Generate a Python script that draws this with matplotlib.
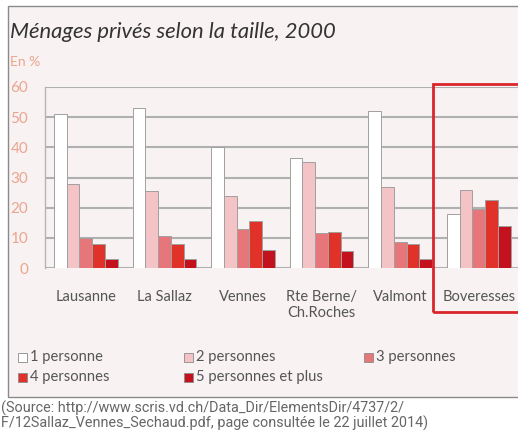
import matplotlib.pyplot as plt
from matplotlib.patches import Rectangle
import numpy as np

# data
categories = ["Lausanne", "La Sallaz", "Vennes", "Rte Berne/\nCh.Roches", "Valmont", "Boveresses"]
series_names = ["1 personne", "2 personnes", "3 personnes", "4 personnes", "5 personnes et plus"]
one_person = [51, 53, 40, 36.5, 52, 18]
two_persons = [28, 25.5, 24, 35, 27, 26]
three_persons = [10, 10.5, 13, 11.5, 8.5, 19.5]
four_persons = [8, 8, 15.5, 12, 8, 22.5]
five_plus = [3, 3, 6, 5.5, 3, 14]
yticks = [0, 10, 20, 30, 40, 50, 60]

colors = ["#ffffff", "#f3c3c5", "#e7767a", "#e03228", "#c3121e"]
bg = "#f8f2f3"
tick_color = "#eaa58f"
text_color = "#555555"

W, H = 518, 436


def fx(px):
    return px / W


def fy(py):
    return 1 - py / H


fig = plt.figure(figsize=(W / 100, H / 100), dpi=100)
fig.patch.set_facecolor("white")

# panel background
fig.patches.append(Rectangle((fx(8), fy(397)), fx(540 - 8), (397 - 6) / H,
                             transform=fig.transFigure, facecolor=bg,
                             edgecolor="#8a8a8a", lw=1, zorder=-1))

ax = fig.add_axes([fx(45), fy(268), fx(W - 45), (268 - 87) / H])
ax.set_zorder(1)
ax.patch.set_alpha(0)

values = [one_person, two_persons, three_persons, four_persons, five_plus]
x = np.arange(len(categories))
w = 0.162
for j, vals in enumerate(values):
    ax.bar(x + (j - 2) * w, vals, width=w, color=colors[j],
           edgecolor="#a0a0a0", linewidth=0.7, zorder=3)

ax.set_xlim(-0.52, 5.5)
ax.set_ylim(0, 60)
ax.set_yticks(yticks)
ax.yaxis.grid(True, color="#b0b0b0", lw=1.5, zorder=0)
ax.set_axisbelow(True)
for s in ["top", "right", "bottom"]:
    ax.spines[s].set_visible(False)
ax.spines["left"].set_color("#b5b5b5")
ax.spines["left"].set_linewidth(1)
ax.tick_params(axis="y", length=0, pad=12, labelcolor=tick_color, labelsize=11)
ax.set_yticklabels([str(t) for t in yticks], fontfamily="Lato")
ax.set_xticks(x)
ax.set_xticklabels(categories, fontfamily="Lato", fontsize=10.5, color=text_color,
                   multialignment="center")
ax.tick_params(axis="x", length=0, pad=16)

# highlight box
fig.patches.append(Rectangle((fx(433), fy(312)), fx(120), (312 - 84) / H,
                             transform=fig.transFigure, facecolor="none",
                             edgecolor="#d9262a", lw=2, zorder=5))

fig.text(fx(10), fy(32), "Ménages privés selon la taille, 2000", fontfamily="Lato",
         fontstyle="italic", fontsize=15.8, color="#333333", va="center")
fig.text(fx(10), fy(62), "En %", fontfamily="Lato", fontsize=10,
         color=tick_color, va="center")

# legend, row-wise like the reference
leg_pos = [(18, 357), (184, 357), (364, 357), (18, 377), (184, 377)]
for (px, py), name, c in zip(leg_pos, series_names, colors):
    fig.patches.append(Rectangle((fx(px), fy(py + 4.5)), fx(9), 9 / H,
                                 transform=fig.transFigure, facecolor=c,
                                 edgecolor="#8a8a8a", lw=0.6, zorder=5))
    fig.text(fx(px + 12), fy(py), name, fontfamily="Lato", fontsize=10.6,
             color=text_color, va="center")

fig.text(fx(1), fy(408), "(Source: http://www.scris.vd.ch/Data_Dir/ElementsDir/4737/2/",
         fontfamily="Roboto", fontsize=10.4, color="#666666", va="center")
fig.text(fx(1), fy(423), "F/12Sallaz_Vennes_Sechaud.pdf, page consultée le 22 juillet 2014)",
         fontfamily="Roboto", fontsize=10.4, color="#666666", va="center")

fig.savefig("out.png", dpi=100)
